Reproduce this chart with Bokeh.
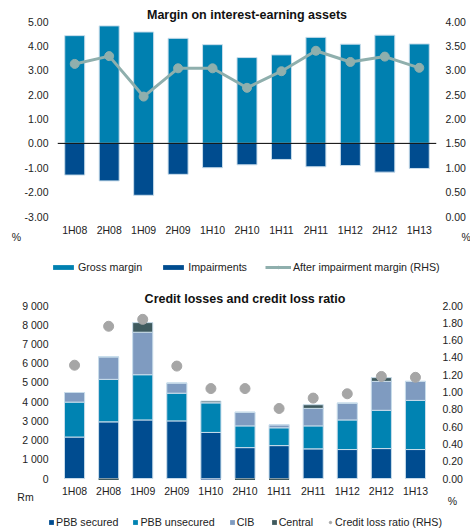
from bokeh.plotting import figure
from bokeh.models import (Range1d, LinearAxis, FixedTicker, NumeralTickFormatter, Span,
                          Legend, LegendItem, Label)
from bokeh.layouts import column
from bokeh.embed import file_html
from bokeh.resources import INLINE

# ---------------- data ----------------
cats = ["1H08", "2H08", "1H09", "2H09", "1H10", "2H10", "1H11", "2H11", "1H12", "2H12", "1H13"]

gross_margin = [4.42, 4.82, 4.57, 4.31, 4.05, 3.52, 3.63, 4.35, 4.07, 4.44, 4.08]
impairments = [-1.30, -1.54, -2.13, -1.27, -1.00, -0.88, -0.66, -0.96, -0.91, -1.18, -1.03]
after_impairment = [3.13, 3.29, 2.46, 3.04, 3.04, 2.64, 2.98, 3.40, 3.17, 3.28, 3.05]

pbb_secured = [2160, 2950, 3050, 3000, 2400, 1610, 1715, 1545, 1510, 1560, 1510]
pbb_unsecured = [1816, 2210, 2350, 1440, 1545, 1130, 925, 1195, 1540, 1990, 2555]
cib = [500, 1170, 2210, 530, -80, 710, 155, 910, 875, 1505, 990]
central = [0, -80, 500, 0, 85, -80, -80, 190, 0, 195, 0]
credit_loss_ratio = [1.31, 1.76, 1.84, 1.30, 1.04, 1.04, 0.81, 0.93, 0.98, 1.18, 1.17]

top_left_ticks = [-3, -2, -1, 0, 1, 2, 3, 4, 5]
top_right_ticks = [0, 0.5, 1, 1.5, 2, 2.5, 3, 3.5, 4]
bot_left_ticks = [0, 1000, 2000, 3000, 4000, 5000, 6000, 7000, 8000, 9000]
bot_left_labels = ["0", "1 000", "2 000", "3 000", "4 000", "5 000", "6 000", "7 000", "8 000", "9 000"]
bot_right_ticks = [0, 0.2, 0.4, 0.6, 0.8, 1.0, 1.2, 1.4, 1.6, 1.8, 2.0]

FONT = "Liberation Sans"
TXT = "#222222"
C_GROSS = "#0080B0"
C_IMP = "#004C8F"
C_LINE = "#8FAFAD"
C_SEC = "#004C90"
C_UNSEC = "#0083B2"
C_CIB = "#7F9BC0"
C_CEN = "#3F5A5E"
C_DOT = "#A6A6A6"
EDGE = "#C9DDEB"
W = 470
NAN = float("nan")


def style_axis(ax, standoff=9):
    ax.axis_line_color = None
    ax.major_tick_line_color = None
    ax.minor_tick_line_color = None
    ax.major_tick_out = 0
    ax.major_tick_in = 0
    ax.minor_tick_out = 0
    ax.major_label_text_font = FONT
    ax.major_label_text_font_size = "10.5px"
    ax.major_label_text_color = TXT
    ax.major_label_standoff = standoff


def main_fig(h, ymin, ymax, top, bottom, right, title, shift=0):
    p = figure(x_range=cats, y_range=Range1d(ymin, ymax), width=W, height=h,
               output_backend="svg", toolbar_location=None, frame_align=False,
               min_border_left=57, min_border_right=right, min_border_top=top,
               min_border_bottom=bottom, margin=(shift, 0, 0, 0))
    p.outline_line_color = None
    p.grid.visible = False
    p.title.text = title
    p.title.align = "center"
    p.title.text_font = FONT
    p.title.text_font_size = "12.5px"
    p.title.text_font_style = "bold"
    p.title.text_color = "#111111"
    p.title.standoff = 0
    return p


def strip_fig(h, shift):
    q = figure(x_range=Range1d(0, W), y_range=Range1d(h, 0), width=W, height=h,
               output_backend="svg", toolbar_location=None, x_axis_type=None, y_axis_type=None,
               frame_align=False, min_border=0, min_border_left=0, min_border_right=0,
               min_border_top=0, min_border_bottom=0, margin=(shift, 0, 0, 0))
    q.outline_line_color = None
    q.grid.visible = False
    q.background_fill_alpha = 0
    q.border_fill_alpha = 0
    return q


def txt_label(q, x, y, text, align="center"):
    q.add_layout(Label(x=x, y=y, text=text, text_align=align, text_baseline="middle",
                       text_font=FONT, text_font_size="10.5px", text_color=TXT))


# ---------------- top chart ----------------
p1 = main_fig(238, -3, 5, 21, 20, 34, "Margin on interest-earning assets")
p1.extra_y_ranges = {"rhs": Range1d(0, 4)}
style_axis(p1.xaxis[0], 7)
style_axis(p1.yaxis[0])
p1.yaxis[0].ticker = FixedTicker(ticks=top_left_ticks)
p1.yaxis[0].formatter = NumeralTickFormatter(format="0.00")
rax1 = LinearAxis(y_range_name="rhs", ticker=FixedTicker(ticks=top_right_ticks),
                  formatter=NumeralTickFormatter(format="0.00"))
style_axis(rax1)
p1.add_layout(rax1, "right")

p1.vbar(x=cats, top=gross_margin, bottom=0, width=0.58, fill_color=C_GROSS, line_color=EDGE, line_width=1)
p1.vbar(x=cats, top=0, bottom=impairments, width=0.58, fill_color=C_IMP, line_color=EDGE, line_width=1)
p1.add_layout(Span(location=0, dimension="width", line_color="black", line_width=1))
p1.line(x=cats, y=after_impairment, y_range_name="rhs", line_color=C_LINE, line_width=3)
p1.scatter(x=cats, y=after_impairment, y_range_name="rhs", size=9, fill_color=C_LINE, line_color=C_LINE)

# unit labels strip (overlaps the bottom of the top chart, transparent)
s1 = strip_fig(20, -10)
txt_label(s1, 16, 8, "%")
txt_label(s1, 461, 8, "%", "left")

# legend strip of the top chart (legend swatches only, no data marks)
q1 = strip_fig(14, 11)
lg_g = q1.vbar(x=[NAN], top=[NAN], width=1, fill_color=C_GROSS, line_color=None)
lg_i = q1.vbar(x=[NAN], top=[NAN], width=1, fill_color=C_IMP, line_color=None)
lg_l = q1.line(x=[NAN], y=[NAN], line_color=C_LINE, line_width=3)
lg_p = q1.scatter(x=[NAN], y=[NAN], size=8, fill_color=C_LINE, line_color=C_LINE)
leg1 = Legend(items=[LegendItem(label="Gross margin", renderers=[lg_g]),
                     LegendItem(label="Impairments", renderers=[lg_i]),
                     LegendItem(label="After impairment margin (RHS)", renderers=[lg_l, lg_p])],
              orientation="horizontal", location=(50, 0), border_line_color=None,
              background_fill_alpha=0, label_text_font=FONT, label_text_font_size="10.7px",
              label_text_color=TXT, label_standoff=2, spacing=18, padding=0, margin=0,
              glyph_width=26, glyph_height=6, label_height=12)
q1.add_layout(leg1, "center")

# ---------------- bottom chart ----------------
p2 = main_fig(223, -100, 9000, 29, 17, 38, "Credit losses and credit loss ratio", shift=3)
p2.extra_y_ranges = {"rhs": Range1d(-100 / 9000 * 2, 2.0)}
style_axis(p2.xaxis[0], 4)
style_axis(p2.yaxis[0])
p2.yaxis[0].ticker = FixedTicker(ticks=bot_left_ticks)
p2.yaxis[0].major_label_overrides = dict(zip(bot_left_ticks, bot_left_labels))
rax2 = LinearAxis(y_range_name="rhs", ticker=FixedTicker(ticks=bot_right_ticks),
                  formatter=NumeralTickFormatter(format="0.00"))
style_axis(rax2, 10)
p2.add_layout(rax2, "right")

names = ["sec", "unsec", "cib", "cen"]
series = [pbb_secured, pbb_unsecured, cib, central]
colors = [C_SEC, C_UNSEC, C_CIB, C_CEN]
src_pos = {"x": cats}
src_neg = {"x": cats}
for n, s in zip(names, series):
    src_pos[n] = [max(v, 0) for v in s]
    src_neg[n] = [min(v, 0) for v in s]

p2.vbar_stack(names, x="x", width=0.59, source=src_pos, fill_color=colors, line_color=EDGE, line_width=1)
p2.vbar_stack(names, x="x", width=0.59, source=src_neg, fill_color=colors, line_color=None)
p2.scatter(x=cats, y=credit_loss_ratio, y_range_name="rhs", size=10, fill_color=C_DOT, line_color=C_DOT)

# unit labels strip of the bottom chart
s2 = strip_fig(20, -11)
txt_label(s2, 25, 8, "Rm")
txt_label(s2, 452, 12, "%")

# legend strip of the bottom chart (legend swatches only, no data marks)
q2 = strip_fig(14, 6)
leg_r = [q2.vbar(x=[NAN], top=[NAN], width=1, fill_color=c, line_color=None) for c in colors]
leg_d = q2.scatter(x=[NAN], y=[NAN], size=5, fill_color=C_DOT, line_color=C_DOT)
leg2 = Legend(items=[LegendItem(label="PBB secured", renderers=[leg_r[0]]),
                     LegendItem(label="PBB unsecured", renderers=[leg_r[1]]),
                     LegendItem(label="CIB", renderers=[leg_r[2]]),
                     LegendItem(label="Central", renderers=[leg_r[3]]),
                     LegendItem(label="Credit loss ratio (RHS)", renderers=[leg_d])],
              orientation="horizontal", location=(48, 0), border_line_color=None,
              background_fill_alpha=0, label_text_font=FONT, label_text_font_size="10.7px",
              label_text_color=TXT, label_standoff=2, spacing=14, padding=0, margin=0,
              glyph_width=6, glyph_height=6, label_height=12)
q2.add_layout(leg2, "center")

layout = column(p1, s1, q1, p2, s2, q2, spacing=0)
open("out.html", "w").write(file_html(layout, INLINE))
